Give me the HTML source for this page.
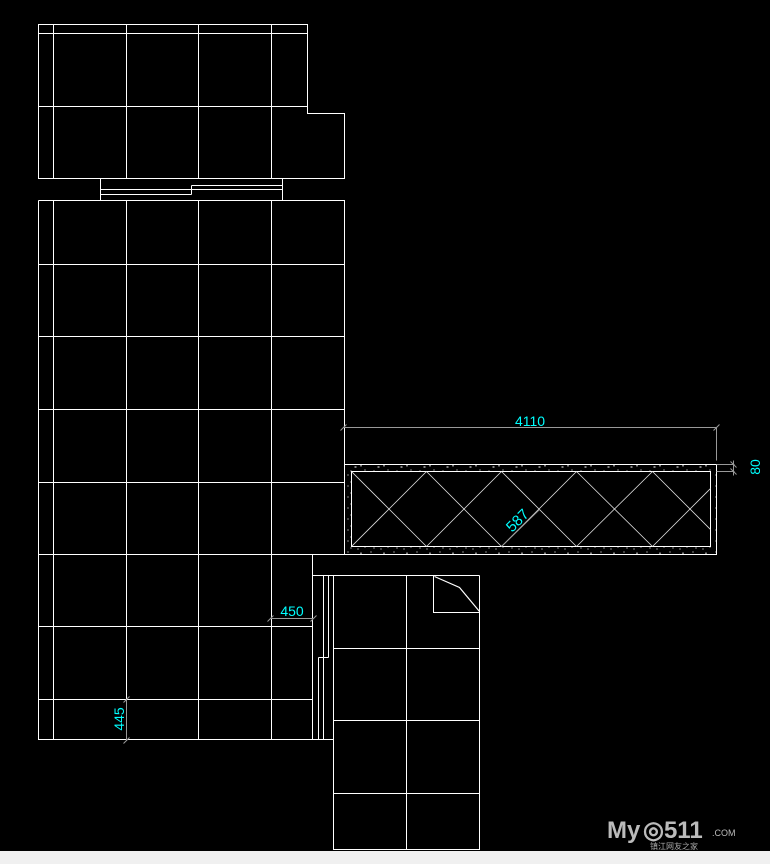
<!DOCTYPE html>
<html><head><meta charset="utf-8"><style>
html,body{margin:0;padding:0;background:#000;width:770px;height:864px;overflow:hidden}
svg{display:block}
text{font-family:"Liberation Sans",sans-serif;fill:#00ffff}
</style></head><body>
<svg width="770" height="864" viewBox="0 0 770 864" xmlns="http://www.w3.org/2000/svg">
<defs>
<pattern id="spk" width="23" height="11" patternUnits="userSpaceOnUse">
<rect x="2" y="1" width="1" height="1" fill="#fff"/><rect x="9" y="4" width="2" height="1" fill="#fff"/>
<rect x="15" y="2" width="1" height="2" fill="#fff"/><rect x="19" y="7" width="1" height="1" fill="#fff"/>
<rect x="5" y="8" width="1" height="1" fill="#fff"/><rect x="12" y="9" width="1" height="1" fill="#fff"/>
</pattern>
<clipPath id="cl"><rect x="351" y="471" width="359" height="75"/></clipPath>
</defs>
<g transform="translate(0.5 0.5)">
<g stroke="#fff" stroke-width="1" fill="none" shape-rendering="crispEdges">
<path d="M38 24H307V113H344V178H38Z"/>
<path d="M38 33H307M38 106H307M53 24V178M126 24V178M198 24V178M271 24V178"/>
<path d="M100 178V200M282 178V200M191 185H282M100 189H282M100 194H191M191 185V194"/>
<path d="M38 200H344V554M38 200V739H333"/>
<path d="M38 264H344M38 336H344M38 409H344M38 482H344M38 554H716M38 626H312M38 699H312"/>
<path d="M53 200V739M126 200V739M198 200V739M271 200V739M312 554V739"/>
<path d="M312 575H479M318 657V739M323 575V739M328 575V657M318 657H328"/>
<path d="M333 575V849H479V575M406 575V849M333 648H479M333 720H479M333 793H479"/>
<path d="M433 575V612H479"/>
<rect x="344" y="464" width="372" height="90"/>
<rect x="351" y="471" width="359" height="75"/>
</g>
<path d="M344.5 464.5H716V554H344.5ZM351 471V546H710V471Z" fill="url(#spk)" fill-rule="evenodd"/>
<path d="M434 576L459 587L479 611" stroke="#fff" stroke-width="1.2" fill="none"/>
<g clip-path="url(#cl)" stroke="#ddd" stroke-width="0.8">
<path d="M351 471L426 546M426 471L501 546M501 471L576 546M576 471L652 546M652 471L727 546M276 471L351 546"/>
<path d="M351 546L426 471M426 546L501 471M501 546L576 471M576 546L652 471M652 546L727 471M727 546L802 471"/>
</g>
<g stroke="#999" stroke-width="1" fill="none">
<path d="M343 427H716M716 427V460M340 430L346 424M713 430L719 424"/>
<path d="M716 464H734M716 471H734M730 461L736 467M730 468L736 474M733 460V475"/>
<path d="M501 546L539 509"/>
<path d="M270 618H313M267 621L273 615M310 621L316 615"/>
<path d="M126 699V740M123 702L129 696M123 743L129 737"/>
</g>
</g>
<text x="530" y="426" font-size="14" text-anchor="middle">4110</text>
<text transform="translate(760 467) rotate(-90)" font-size="14" text-anchor="middle">80</text>
<text transform="translate(521 524) rotate(-45)" font-size="15" text-anchor="middle">587</text>
<text x="292" y="616" font-size="14" text-anchor="middle">450</text>
<text transform="translate(124 719) rotate(-90)" font-size="14" text-anchor="middle">445</text>
<text x="607" y="838" font-size="24" font-weight="bold" style="fill:#bbb">My</text>
<text x="643" y="838" font-size="24" font-weight="bold" style="fill:#bbb">◎511</text>
<text x="712" y="836" font-size="9" style="fill:#bbb">.COM</text>
<text x="650" y="849" font-size="8" style="fill:#aaa;font-family:'Liberation Sans','Noto Sans CJK SC',sans-serif">镇江网友之家</text>
<rect x="0" y="851" width="770" height="13" fill="#f0f0f0"/>
</svg>
</body></html>
